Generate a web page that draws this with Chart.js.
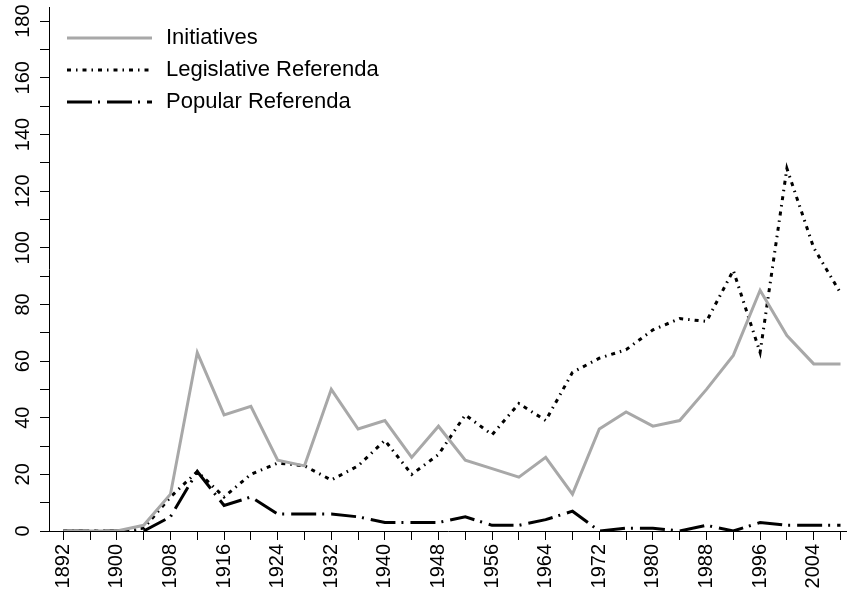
<!DOCTYPE html>
<html>
<head>
<meta charset="utf-8">
<script src="https://cdn.jsdelivr.net/npm/chart.js@4.4.0/dist/chart.umd.min.js"></script>
<style>
html,body{margin:0;padding:0;background:#fff;}
#wrap{width:847px;height:599px;position:relative;}
</style>
</head>
<body>
<div id="wrap"><canvas id="c" width="847" height="599"></canvas></div>
<script>
// ---- data ----
const years = [1892,1896,1900,1904,1908,1912,1916,1920,1924,1928,1932,1936,1940,1944,1948,1952,1956,1960,1964,1968,1972,1976,1980,1984,1988,1992,1996,2000,2004,2008];
const xTickLabels = [1892,1900,1908,1916,1924,1932,1940,1948,1956,1964,1972,1980,1988,1996,2004];
const yTickValues = [0,10,20,30,40,50,60,70,80,90,100,110,120,130,140,150,160,170,180];
const yTickLabels = [0,20,40,60,80,100,120,140,160,180];
const initiatives = [0,0,0,2,13,63,41,44,25,23,50,36,39,26,37,25,22,19,26,13,36,42,37,39,50,62,85,69,59,59];
const legislative = [0,0,0,1,12,21,12,20,24,23,18,23,32,20,27,41,34,45,39,56,61,64,71,75,74,92,63,128,100,84];
const popular = [0,0,0,0,5,21,9,12,6,6,6,5,3,3,3,5,2,2,4,7,0,1,1,0,2,0,3,2,2,2];
const seriesNames = ['Initiatives','Legislative Referenda','Popular Referenda'];

const toPts = arr => years.map((yr,i)=>({x:yr, y:arr[i]}));
const FONT = "'Liberation Sans', Arial, Helvetica, sans-serif";

const styles = [
  { color: '#a8a8a8', dash: [] },
  { color: '#000000', dash: [4,5,1.5,5] },
  { color: '#000000', dash: [25,6,2,7] }
];

// small canvases used as legend point styles (a dashed line sample)
function legendSwatch(st){
  const cv = document.createElement('canvas');
  cv.width = 85; cv.height = 4;
  const g = cv.getContext('2d');
  g.strokeStyle = st.color; g.lineWidth = 3; g.setLineDash(st.dash);
  g.beginPath(); g.moveTo(0, 2); g.lineTo(85, 2); g.stroke();
  return cv;
}
const swatches = styles.map(legendSwatch);

// place the legend box inside the plot area, slightly inset
const legendPlace = {
  id: 'legendPlace',
  beforeDraw(chart){
    const l = chart.legend, a = chart.chartArea;
    if (l && a) {
      l.left = a.left + 5; l.right = a.right;
      l.top = a.top + 10; l.bottom = a.bottom;
    }
  }
};

new Chart(document.getElementById('c'), {
  type: 'line',
  data: {
    datasets: [
      { label: seriesNames[0], data: toPts(initiatives), borderColor: styles[0].color, borderWidth: 3,
        pointRadius: 0, tension: 0, fill: false, borderJoinStyle: 'miter' },
      { label: seriesNames[1], data: toPts(legislative), borderColor: styles[1].color, borderWidth: 3,
        borderDash: styles[1].dash, pointRadius: 0, tension: 0, fill: false, borderJoinStyle: 'miter' },
      { label: seriesNames[2], data: toPts(popular), borderColor: styles[2].color, borderWidth: 3,
        borderDash: styles[2].dash, pointRadius: 0, tension: 0, fill: false, borderJoinStyle: 'miter' }
    ]
  },
  options: {
    responsive: false,
    animation: false,
    layout: { padding: { top: 7, left: 0, right: 0, bottom: 0 } },
    plugins: {
      tooltip: { enabled: false },
      legend: {
        position: 'chartArea',
        align: 'start',
        labels: {
          usePointStyle: true, pointStyleWidth: 91,
          font: { family: FONT, size: 22 }, color: '#000', padding: 10,
          generateLabels: chart => {
            const items = Chart.defaults.plugins.legend.labels.generateLabels(chart);
            items.forEach((it, i) => { it.pointStyle = swatches[i]; });
            return items;
          }
        }
      }
    },
    scales: {
      x: {
        type: 'linear', min: 1889.87, max: 2008.97,
        afterBuildTicks: s => { s.ticks = years.map(v => ({ value: v })); },
        afterFit: s => { s.height = 68; s.paddingLeft = 0; s.paddingRight = 0; },
        ticks: {
          autoSkip: false, minRotation: 90, maxRotation: 90, padding: 4,
          font: { family: FONT, size: 20 }, color: '#000',
          callback: v => xTickLabels.includes(v) ? String(v) : ''
        },
        grid: { drawOnChartArea: false, drawTicks: true, tickLength: 9, tickColor: '#000', tickWidth: 1 },
        border: { display: true, color: '#000', width: 1 }
      },
      y: {
        type: 'linear', min: 0, max: 185,
        afterBuildTicks: s => { s.ticks = yTickValues.map(v => ({ value: v })); },
        afterFit: s => { s.width = 49; s.paddingTop = 0; s.paddingBottom = 0; },
        ticks: {
          autoSkip: false, minRotation: 90, maxRotation: 90, crossAlign: 'center', padding: 0,
          font: { family: FONT, size: 20 }, color: '#000',
          callback: v => yTickLabels.includes(v) ? String(v) : ''
        },
        grid: { drawOnChartArea: false, drawTicks: true, tickLength: 9, tickColor: '#000', tickWidth: 1 },
        border: { display: true, color: '#000', width: 1 }
      }
    }
  },
  plugins: [legendPlace]
});
</script>
</body>
</html>
